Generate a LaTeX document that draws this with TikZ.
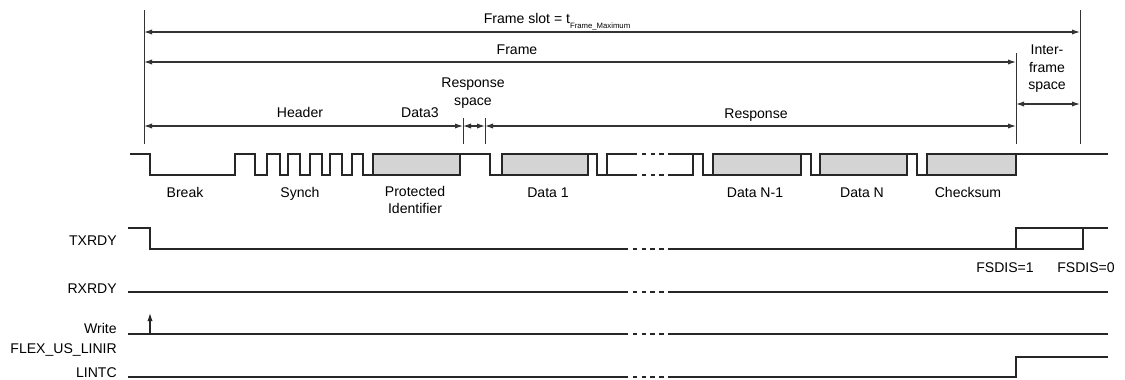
\documentclass[tikz,border=0pt]{standalone}
\usepackage{fontspec}
\setmainfont{Liberation Sans}
\usetikzlibrary{arrows.meta}

\begin{document}
\begin{tikzpicture}[
    x=0.25mm, y=-0.25mm,
    every node/.style={font=\fontsize{10}{12.5}\selectfont, inner sep=0pt},
    lbl/.style={anchor=base},
    sname/.style={anchor=base east},
    sig/.style={line width=1.3pt, black!85},
    gap/.style={sig, dash pattern=on 1.1mm off 1.1mm},
    byte/.style={sig, fill=black!17},
    marker/.style={line width=0.7pt, black!80},
    dim/.style={{Latex[length=2mm,width=1.3mm]}-{Latex[length=2mm,width=1.3mm]}, line width=0.8pt, black!80}
]
    \useasboundingbox (0,0) rectangle (1125,379);

    % boundary lines
    \draw[marker] (144,10) -- (144,144);
    \draw[marker] (1080,10) -- (1080,144);
    \draw[marker] (1016,53) -- (1016,144);
    \draw[marker] (463,118) -- (463,144);
    \draw[marker] (485,118) -- (485,144);

    % dimension arrows
    \coordinate (slotL) at (144,32);
    \coordinate (slotR) at (1080,32);
    \coordinate (frameL) at (144,62);
    \coordinate (frameR) at (1016,62);
    \coordinate (hdrL) at (144,126);
    \coordinate (hdrR) at (463,126);
    \coordinate (rspL) at (485,126);
    \coordinate (rspR) at (1016,126);
    \coordinate (ifsL) at (1016,104);
    \coordinate (ifsR) at (1080,104);

    \draw[dim] (slotL) -- (slotR);
    \draw[dim] (frameL) -- (frameR);
    \draw[dim] (hdrL) -- (hdrR);
    \draw[dim] (hdrR) -- (rspL);
    \draw[dim] (rspL) -- (rspR);
    \draw[dim] (ifsL) -- (ifsR);

    \node[lbl] (slot) at (557,23) {Frame slot = t\raisebox{-0.7ex}{\fontsize{5.5}{6}\selectfont Frame\_Maximum}};
    \node[lbl] (frame) at (517,54) {Frame};
    \node[lbl] (header) at (300,117) {Header};
    \node[lbl] (data3) at (420,117) {Data3};
    \node[align=center] (rspace) at (473,93) {Response\\space};
    \node[lbl] (response) at (756,118) {Response};
    \node[align=center] (ifspace) at (1047,69) {Inter-\\frame\\space};

    % LIN frame
    \draw[byte] (373,154) rectangle (460,175);
    \draw[byte] (502,154) rectangle (588,175);
    \draw[byte] (713,154) rectangle (801,175);
    \draw[byte] (820,154) rectangle (907,175);
    \draw[byte] (927,154) rectangle (1016,175);
    \draw[sig] (130,154) -- (150,154) -- (150,175) -- (235,175) -- (235,154)
        -- (255,154) -- (255,175) -- (267,175) -- (267,154) -- (280,154)
        -- (280,175) -- (288,175) -- (288,154) -- (300,154) -- (300,175)
        -- (310,175) -- (310,154) -- (322,154) -- (322,175) -- (330,175)
        -- (330,154) -- (342,154) -- (342,175) -- (352,175) -- (352,154)
        -- (363,154) -- (363,175) -- (373,175) -- (373,154) -- (490,154)
        -- (490,175) -- (502,175) -- (502,154) -- (597,154) -- (597,175)
        -- (607,175) -- (607,154) -- (633,154);
    \draw[sig] (607,175) -- (633,175);
    \draw[gap] (633,154) -- (672,154);
    \draw[gap] (633,175) -- (672,175);
    \draw[sig] (672,175) -- (693,175) -- (693,154);
    \draw[sig] (672,154) -- (703,154) -- (703,175) -- (713,175) -- (713,154)
        -- (811,154) -- (811,175) -- (820,175) -- (820,154) -- (917,154)
        -- (917,175) -- (927,175) -- (927,154) -- (1108,154);

    \node[lbl] (brk) at (185,197) {Break};
    \node[lbl] (synch) at (300,197) {Synch};
    \node[align=center] (pid) at (415,200) {Protected\\Identifier};
    \node[lbl] (d1) at (548,197) {Data 1};
    \node[lbl] (dn1) at (755,197) {Data N-1};
    \node[lbl] (dn) at (862,197) {Data N};
    \node[lbl] (chk) at (968,197) {Checksum};

    % TXRDY
    \node[sname] (txrdy) at (117,245) {TXRDY};
    \draw[sig] (128,228) -- (150,228) -- (150,249) -- (624,249);
    \draw[gap] (624,249) -- (672,249);
    \draw[sig] (672,249) -- (1083,249) -- (1083,228);
    \draw[sig] (1016,249) -- (1016,228) -- (1108,228);
    \node[lbl] (fs1) at (1005,272) {FSDIS=1};
    \node[lbl] (fs0) at (1086,272) {FSDIS=0};

    % RXRDY
    \node[sname] (rxrdy) at (117,293) {RXRDY};
    \draw[sig] (128,292) -- (624,292);
    \draw[gap] (624,292) -- (672,292);
    \draw[sig] (672,292) -- (1108,292);

    % Write FLEX_US_LINIR
    \node[sname] (wr) at (117,333) {Write};
    \node[sname] (linir) at (117,353) {FLEX\_US\_LINIR};
    \draw[sig] (128,334) -- (624,334);
    \draw[gap] (624,334) -- (672,334);
    \draw[sig] (672,334) -- (1108,334);
    \coordinate (wrBase) at (150,334);
    \coordinate (wrTip) at (150,313);
    \draw[-{Latex[length=2mm,width=1.3mm]}, line width=0.8pt, black!85] (wrBase) -- (wrTip);

    % LINTC
    \node[sname] (lintc) at (117,377) {LINTC};
    \draw[sig] (128,377) -- (624,377);
    \draw[gap] (624,377) -- (672,377);
    \draw[sig] (672,377) -- (1016,377) -- (1016,357) -- (1108,357);
\end{tikzpicture}
\end{document}
